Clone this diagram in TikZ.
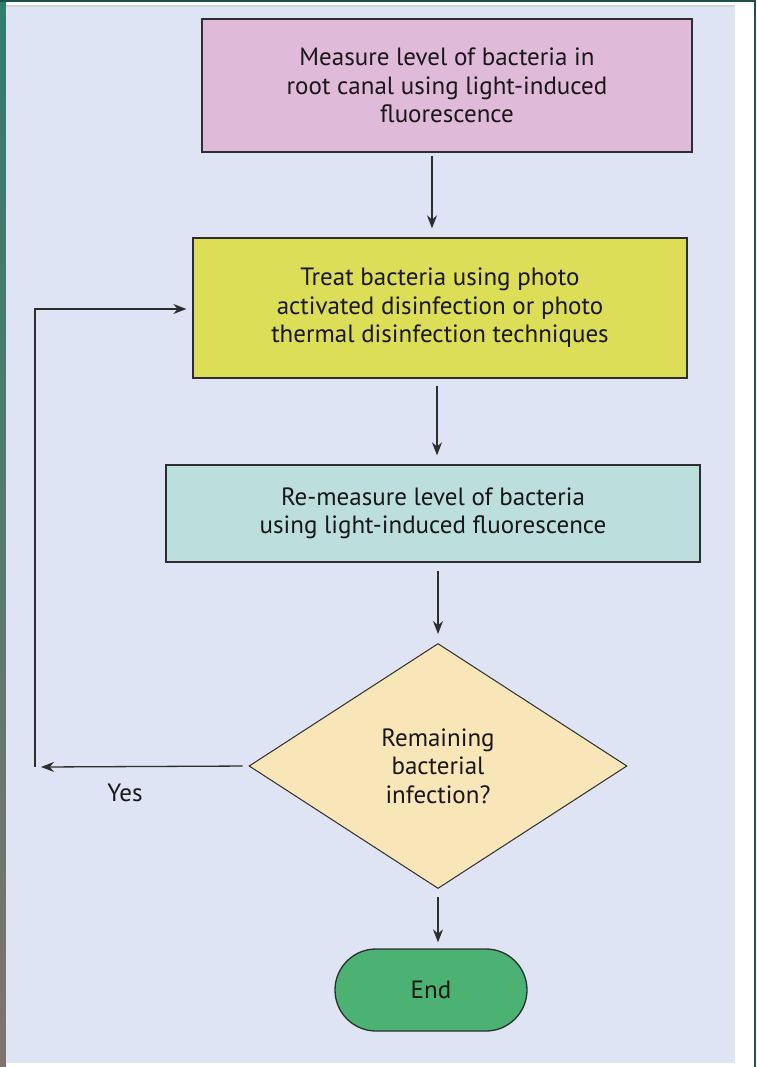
\documentclass[tikz,border=0pt]{standalone}
\usepackage{fontspec}
\setmainfont{PT Sans}
\usetikzlibrary{arrows.meta,shapes.geometric,shapes.misc}

\definecolor{bgpanel}{HTML}{DFE4F4}
\definecolor{framedark}{HTML}{1F4F4C}
\definecolor{framegray}{HTML}{D2D4D8}
\definecolor{stripteal}{HTML}{2F7D6E}
\definecolor{stripdark}{HTML}{0C463D}
\definecolor{stripbrown}{HTML}{7E7470}
\definecolor{edgegray}{HTML}{2E2E2E}
\definecolor{inkdark}{HTML}{1A1718}
\definecolor{measurepink}{HTML}{DFBAD9}
\definecolor{treatyellow}{HTML}{DCDE58}
\definecolor{remeasureteal}{HTML}{BCDFDE}
\definecolor{decisionsand}{HTML}{F8E5B8}
\definecolor{endgreen}{HTML}{4CB274}

\newcommand{\flowfont}{\fontsize{25}{28.5}\selectfont}

\begin{document}
\begin{tikzpicture}[x=1pt, y=-1pt,
    box/.style={draw=edgegray, line width=1.3pt, text=inkdark, align=center,
        inner sep=0pt, font=\flowfont},
    flow/.style={draw=edgegray, line width=1.3pt, -{Stealth[length=13pt,width=10pt]},
        shorten <=7pt, shorten >=9pt}]
    \useasboundingbox (0,0) rectangle (756,1067);

    % Page frame and panel
    \fill[white] (0,0) rectangle (756,1067);
    \shade[top color=stripteal, middle color=stripdark, bottom color=stripbrown] (0,0) rectangle (6,1067);
    \fill[framedark] (0,0) rectangle (756,2);
    \fill[framedark] (754,0) rectangle (756,1067);
    \fill[framegray] (6,5) rectangle (735,7);
    \fill[bgpanel] (6,7) rectangle (735,1063);

    % Steps
    \node[box, fill=measurepink, minimum width=490pt, minimum height=133pt] (measure) at (447,85.5)
        {Measure level of bacteria in\\root canal using light-induced\\fluorescence};
    \node[box, fill=treatyellow, minimum width=494pt, minimum height=140pt] (treat) at (440,308)
        {Treat bacteria using photo\\activated disinfection or photo\\thermal disinfection techniques};
    \node[box, fill=remeasureteal, minimum width=534pt, minimum height=97pt] (remeasure) at (433,513.5)
        {Re-measure level of bacteria\\using light-induced fluorescence};

    % Decision and end
    \node[box, diamond, aspect=1.54, fill=decisionsand, line width=1pt,
        minimum width=378pt, minimum height=245pt] (decision) at (438,766)
        {Remaining\\bacterial\\infection?};
    \node[box, rounded rectangle, fill=endgreen, minimum width=192pt, minimum height=82pt] (stop) at (431,990)
        {End};

    % Main flow
    \draw[flow, shorten <=3pt] ([xshift=-15pt]measure.south) -- ([xshift=-15pt]measure.south |- treat.north);
    \draw[flow] ([xshift=-3pt]treat.south) -- ([xshift=-3pt]treat.south |- remeasure.north);
    \draw[flow, shorten <=8pt] (remeasure.south -| decision.north) -- (decision.north);
    \draw[flow, shorten <=8pt, shorten >=6pt] (decision.south) -- (decision.south |- stop.north);

    % Loop back when infection remains
    \coordinate (yesend) at (41,767);
    \coordinate (loopcorner) at (35,767);
    \coordinate (looptop) at (35,309);
    \draw[flow, shorten <=6pt, shorten >=0pt] (decision.west) -- (yesend);
    \draw[flow, shorten <=0pt, shorten >=6pt] (loopcorner) -- (looptop) -- (looptop -| treat.west);
    \node[font=\flowfont, text=inkdark] (yes) at (125,793) {Yes};
\end{tikzpicture}
\end{document}
